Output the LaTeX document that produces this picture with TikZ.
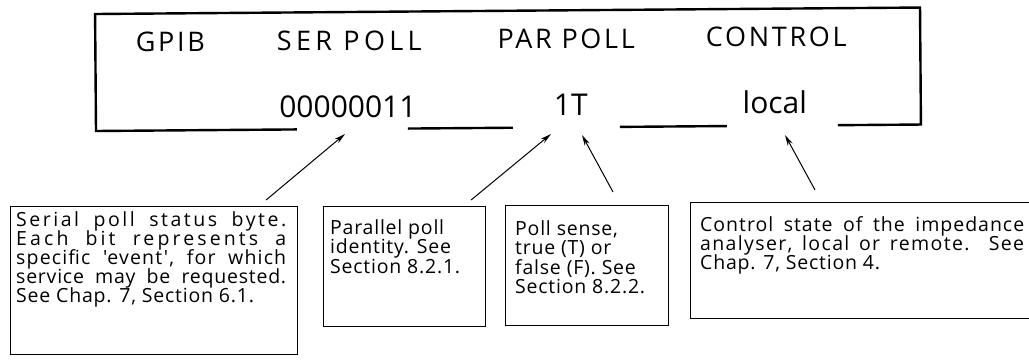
\documentclass[tikz,border=0pt]{standalone}
\usepackage{fontspec}
\setmainfont{Open Sans}
\newfontfamily\hdrfont[LetterSpace=10]{Open Sans}
\newfontfamily\boxfont[LetterSpace=4]{Open Sans}
\usetikzlibrary{arrows.meta}
\newcommand\jline[3]{{\addfontfeature{LetterSpace=#2}\hbox to #1{#3}}}
\begin{document}
\begin{tikzpicture}[x=1pt,y=-1pt,
  frameline/.style={line width=2.4pt, line join=miter},
  hdr/.style={anchor=base, inner sep=0pt, font=\hdrfont\fontsize{27}{27}\selectfont},
  val/.style={anchor=base, inner sep=0pt, font=\fontsize{30}{30}\selectfont},
  infobox/.style={draw, line width=1.1pt, anchor=north west, inner sep=0pt},
  bline/.style={anchor=base west, inner sep=0pt, font=\boxfont\fontsize{19.5}{19.5}\selectfont},
  pointer/.style={line width=1pt, -{Stealth[length=11pt,width=5.5pt]}}
]
\useasboundingbox (0,0) rectangle (1029,364);
\fill[white] (0,0) rectangle (1029,364);

\begin{scope}[rotate around={0.45:(96,131)}]
  \draw[frameline] (297,131) -- (96,131) -- (96,14) -- (921,14) -- (921,131) -- (838,131);
  \draw[frameline] (408,131) -- (513,131);
  \draw[frameline] (620,131) -- (727,131);
  \node[hdr] (gpib) at (171,52) {GPIB};
  \node[hdr] (serh) at (350,52) {\addfontfeature{LetterSpace=16}SER POLL};
  \node[hdr] (parh) at (567,52) {PAR POLL};
  \node[hdr] (ctlh) at (777,52) {CONTROL};
  \node[val] (serv) at (348,119) {00000011};
  \node[val] (parv) at (571,119) {1T};
  \node[val] (ctlv) at (775,119) {local};
\end{scope}

\node[infobox, minimum width=287pt, minimum height=148pt] (b1) at (10,206) {};
\node[infobox, minimum width=162pt, minimum height=120pt] (b2) at (323,206) {};
\node[infobox, minimum width=163pt, minimum height=120pt] (b3) at (505,205) {};
\node[infobox, minimum width=345pt, minimum height=116pt] (b4) at (690,202) {};

\node[bline] (t1a) at (16,226) {\jline{270pt}{13}{Serial\hfill poll\hfill status\hfill byte.}};
\node[bline] (t1b) at (16,245) {\jline{270pt}{16}{Each\hfill bit\hfill represents\hfill a}};
\node[bline] (t1c) at (16,264) {\jline{270pt}{6}{specific\hfill {\char"27}event{\char"27},\hfill for\hfill which}};
\node[bline] (t1d) at (16,283) {\jline{270pt}{4}{service\hfill may\hfill be\hfill requested.}};
\node[bline] (t1e) at (16,302) {See Chap. 7, Section 6.1.};

\node[bline] (t2a) at (330,234) {Parallel poll};
\node[bline] (t2b) at (330,253.5) {identity. See};
\node[bline] (t2c) at (330,273) {Section 8.2.1.};

\node[bline] (t3a) at (515,235) {Poll sense,};
\node[bline] (t3b) at (515,254.5) {true (T) or};
\node[bline] (t3c) at (515,274) {false (F). See};
\node[bline] (t3d) at (515,293.5) {Section 8.2.2.};

\node[bline] (t4a) at (700,231) {\jline{324pt}{5}{Control\hfill state\hfill of\hfill the\hfill impedance}};
\node[bline] (t4b) at (700,250) {\jline{324pt}{7}{analyser,\hfill local\hfill or\hfill remote.\hfill\hfill See}};
\node[bline] (t4c) at (700,269) {Chap. 7, Section 4.};

\coordinate (tip1) at (345,134);
\coordinate (tip2) at (551,134);
\coordinate (tip3) at (582,135);
\coordinate (tip4) at (785,135);
\draw[pointer] ([xshift=-32pt,yshift=6pt]b1.north east) -- (tip1);
\draw[pointer] ([xshift=-15pt,yshift=6pt]b2.north east) -- (tip2);
\draw[pointer] ([xshift=108pt,yshift=13pt]b3.north west) -- (tip3);
\draw[pointer] ([xshift=125pt,yshift=12pt]b4.north west) -- (tip4);
\end{tikzpicture}
\end{document}
